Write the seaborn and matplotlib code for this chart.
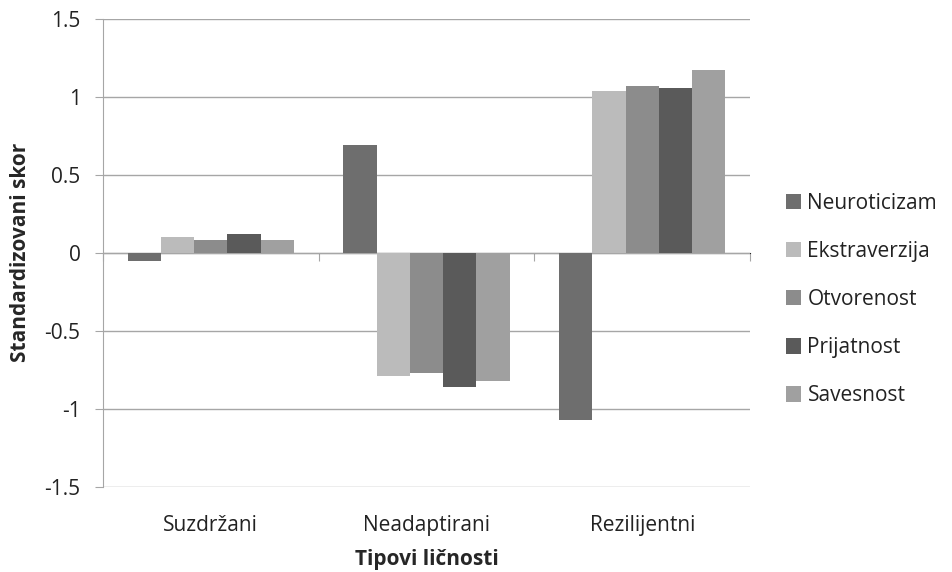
import pandas as pd
import matplotlib
matplotlib.use("Agg")
import matplotlib.pyplot as plt
import seaborn as sns

# data
tipovi = ["Suzdržani", "Neadaptirani", "Rezilijentni"]
osobine = ["Neuroticizam", "Ekstraverzija", "Otvorenost", "Prijatnost", "Savesnost"]
neuroticizam = [-0.05, 0.69, -1.07]
ekstraverzija = [0.10, -0.79, 1.04]
otvorenost = [0.08, -0.77, 1.07]
prijatnost = [0.12, -0.86, 1.06]
savesnost = [0.08, -0.82, 1.17]
boje = ["#6e6e6e", "#bbbbbb", "#8c8c8c", "#5a5a5a", "#a0a0a0"]

rows = []
for osobina, vals in zip(osobine, [neuroticizam, ekstraverzija, otvorenost, prijatnost, savesnost]):
    for tip, v in zip(tipovi, vals):
        rows.append({"tip": tip, "osobina": osobina, "skor": v})
df = pd.DataFrame(rows)

sns.set_style("white")
plt.rcParams["font.family"] = ["Open Sans", "DejaVu Sans"]

fig = plt.figure(figsize=(9.52, 5.72), dpi=100)
ax = fig.add_axes([0.108, 0.149, 0.68, 0.818])

sns.barplot(data=df, x="tip", y="skor", hue="osobina", order=tipovi,
            hue_order=osobine, palette=boje, width=0.77, saturation=1,
            edgecolor="none", ax=ax)

grid_c = "#a6a6a6"
fs = 15
ax.set_ylim(-1.5, 1.5)
ax.set_xlim(-0.5, 2.5)
ax.set_yticks([-1.5, -1, -0.5, 0, 0.5, 1, 1.5])
ax.set_yticklabels(["-1.5", "-1", "-0.5", "0", "0.5", "1", "1.5"])
ax.yaxis.grid(True, color=grid_c, lw=1)
ax.set_axisbelow(True)
for s in ["top", "right", "bottom"]:
    ax.spines[s].set_visible(False)
ax.spines["left"].set_color(grid_c)
ax.tick_params(axis="y", left=True, length=6, color=grid_c, labelsize=fs,
               labelcolor="#222222", pad=10)
ax.tick_params(axis="x", bottom=False, labelsize=fs, labelcolor="#222222", pad=17)

# category axis line at zero with boundary ticks pointing down
sec = ax.secondary_xaxis(0.5)
sec.set_xticks([-0.5, 0.5, 1.5, 2.5])
sec.set_xticklabels([])
sec.tick_params(length=6, color=grid_c, direction="in")
sec.spines["bottom"].set_color(grid_c)

ax.set_xlabel("Tipovi ličnosti", fontsize=fs, fontweight="bold", labelpad=9)
ax.set_ylabel("Standardizovani skor", fontsize=fs, fontweight="bold", labelpad=10)

leg = ax.legend(loc="center left", bbox_to_anchor=(1.0, 0.40), frameon=False,
                fontsize=fs, labelspacing=1.3, handlelength=0.75,
                handleheight=0.75, handletextpad=0.3, borderaxespad=1.3)
for t in leg.get_texts():
    t.set_color("#222222")

fig.savefig("out.png", dpi=100)
